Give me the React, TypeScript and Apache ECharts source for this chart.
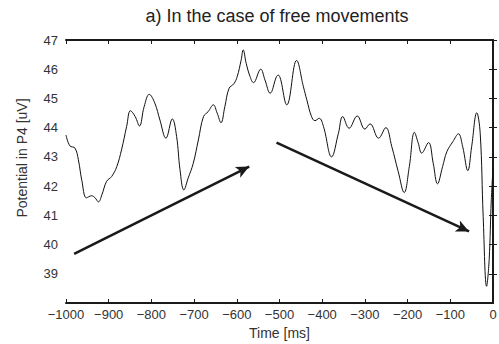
import React, { useEffect, useRef } from "react";
import * as echarts from "echarts";

const timeMs = [
  -1000, -991, -979, -971, -963, -952, -940, -932, -924, -916, -905, -893, -881, -870, -858, -849, -838, -828,
  -817, -805, -792, -780, -766, -751, -741, -733, -724, -714, -702, -690, -678, -667, -655, -646, -637, -628,
  -618, -607, -599, -590, -585, -578, -569, -561, -544, -534, -522, -507, -503, -483, -460, -444, -436, -425,
  -417, -407, -397, -378, -362, -352, -337, -318, -300, -288, -268, -251, -237, -222, -208, -196, -184, -175,
  -167, -151, -140, -130, -118, -108, -94, -81, -71, -59, -50, -38, -30, -23, -15, -9, -4, 0,
];
const potential = [
  43.75, 43.38, 43.3, 42.9, 42.2, 41.6, 41.67, 41.6, 41.46, 41.7, 42.16, 42.33, 42.67, 43.24, 44.04, 44.58, 44.38, 44.06,
  44.72, 45.14, 44.84, 44.26, 43.64, 44.3, 43.7, 42.56, 41.87, 42.27, 42.78, 43.58, 44.38, 44.55, 44.78, 44.5, 44.17, 44.72,
  45.35, 45.5, 45.75, 46.3, 46.66, 46.2, 45.75, 45.54, 46.0, 45.63, 45.18, 45.75, 45.8, 44.78, 46.3, 45.4, 44.95, 44.38,
  44.24, 44.32, 44.04, 43.0, 43.81, 44.38, 43.98, 44.4, 43.95, 44.13, 43.64, 44.0, 43.35, 42.5, 41.78, 42.67, 43.84, 43.47,
  43.13, 43.49, 42.78, 42.08, 42.67, 43.18, 43.52, 43.79, 43.35, 42.53, 43.35, 44.51, 43.81, 40.96, 38.57, 39.48, 41.53, 42.6,
];

const arrowStarts = [
  [-981, 39.68],
  [-507, 43.49],
];
const arrowEnds = [
  [-571, 42.67],
  [-56, 40.45],
];

const xTicks = { min: -1000, max: 0, interval: 100 };
const yTicks = { min: 38, max: 47, interval: 1 };

const titleText = "a) In the case of free movements";
const xName = "Time [ms]";
const yName = "Potential in P4 [uV]";

export default function App() {
  const ref = useRef<HTMLDivElement>(null);
  useEffect(() => {
    if (!ref.current) return;
    const chart = echarts.init(ref.current, undefined, { renderer: "svg" });
    const font = "'Liberation Sans', Arial, Helvetica, sans-serif";
    const axisColor = "#1a1a1a";
    const fmt = (v: number) => String(v).replace("-", "\u2212");
    const baseAxisLine = { show: true, lineStyle: { color: axisColor, width: 2 } };
    const baseTick = { show: true, inside: true, length: 4, lineStyle: { color: axisColor, width: 1 } };
    chart.setOption({
      animation: false,
      backgroundColor: "#ffffff",
      grid: { left: 66, right: 6, top: 40, bottom: 41, outerBoundsMode: "none" },
      xAxis: [
        {
          type: "value",
          min: xTicks.min,
          max: xTicks.max,
          interval: xTicks.interval,
          axisLine: baseAxisLine,
          axisTick: baseTick,
          splitLine: { show: false },
          axisLabel: {
            color: "#333",
            fontSize: 13,
            fontFamily: font,
            margin: 5,
            interval: 0,
            hideOverlap: false,
            formatter: fmt,
          },
          name: xName,
          nameLocation: "middle",
          nameGap: 23,
          nameTextStyle: { color: "#333", fontSize: 14, fontFamily: font },
        },
        {
          type: "value",
          position: "top",
          min: xTicks.min,
          max: xTicks.max,
          interval: xTicks.interval,
          axisLine: baseAxisLine,
          axisTick: baseTick,
          splitLine: { show: false },
          axisLabel: { show: false },
        },
      ],
      yAxis: [
        {
          type: "value",
          min: yTicks.min,
          max: yTicks.max,
          interval: yTicks.interval,
          axisLine: baseAxisLine,
          axisTick: baseTick,
          splitLine: { show: false },
          axisLabel: {
            color: "#333",
            fontSize: 13,
            fontFamily: font,
            margin: 8,
            showMinLabel: false,
            formatter: fmt,
          },
        },
        {
          type: "value",
          position: "right",
          min: yTicks.min,
          max: yTicks.max,
          interval: yTicks.interval,
          axisLine: baseAxisLine,
          axisTick: baseTick,
          splitLine: { show: false },
          axisLabel: { show: false },
        },
      ],
      graphic: [
        {
          type: "text",
          x: 277,
          y: 16,
          style: {
            text: titleText,
            fill: "#222",
            font: `18px ${font}`,
            align: "center",
            verticalAlign: "middle",
          },
        },
        {
          type: "text",
          x: 22,
          y: 158,
          rotation: Math.PI / 2,
          style: {
            text: yName,
            fill: "#333",
            font: `14px ${font}`,
            align: "center",
            verticalAlign: "middle",
          },
        },
      ],
      series: [
        {
          type: "line",
          data: timeMs.map((t, i) => [t, potential[i]]),
          smooth: 0.4,
          showSymbol: false,
          symbol: "none",
          lineStyle: { color: "#111", width: 1 },
          silent: true,
          markLine: {
            silent: true,
            symbol: ["none", "arrow"],
            symbolSize: [9, 13],
            label: { show: false },
            lineStyle: { color: "#1a1a1a", width: 2.5, type: "solid" },
            data: arrowStarts.map((s, i) => [
              { coord: s, symbol: "none" },
              { coord: arrowEnds[i], symbol: "arrow" },
            ]),
          },
        },
      ],
    });
    return () => chart.dispose();
  }, []);
  return (
    <div
      ref={ref}
      style={{ position: "fixed", left: 0, top: 0, width: 499, height: 344, background: "#fff" }}
    />
  );
}
